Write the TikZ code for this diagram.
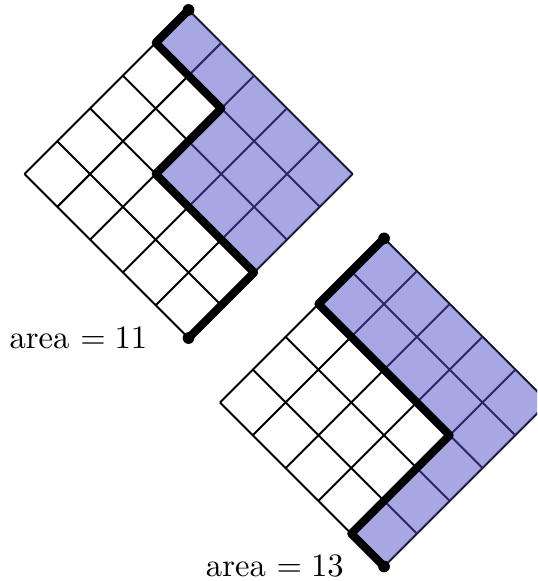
\documentclass[tikz,border=0pt]{standalone}
\usepackage{tikz}
\usetikzlibrary{positioning}
\definecolor{AreaBlue}{RGB}{80,80,200}

\begin{document}
\begin{tikzpicture}[
    cellgrid/.style={step=0.5,semithick,black},
    areafill/.style={fill=AreaBlue,opacity=0.5},
    dyck/.style={line width=2.5pt,line join=round,line cap=round},
    enddot/.style={fill=black}
  ]
  \clip (0,0) rectangle (5.787,-6.261);
  % first lattice path, area 11
  \begin{scope}[shift={(0.264,-1.875)},rotate=-45]
    \draw[cellgrid] (0,0) grid (2.5,2.5);
    \fill[areafill] (0,2.5) -- (2.5,2.5) -- (2.5,1) -- (1,1) -- (1,2) -- (0,2) -- cycle;
    \coordinate (top1) at (0,2.5);
    \coordinate (bot1) at (2.5,0);
    \draw[dyck] (top1) -- ++(0,-0.5) -- ++(1,0) -- ++(0,-1) -- ++(1.5,0) -- (bot1);
    \fill[enddot] (top1) circle (1.8pt) (bot1) circle (1.8pt);
  \end{scope}
  \node[left=3.2mm of bot1] (lab1) {area $=11$};
  % second lattice path, area 13
  \begin{scope}[shift={(2.371,-4.337)},rotate=-45]
    \draw[cellgrid] (0,0) grid (2.5,2.5);
    \fill[areafill] (0,2.5) -- (2.5,2.5) -- (2.5,0) -- (2,0) -- (2,1.5) -- (0,1.5) -- cycle;
    \coordinate (top2) at (0,2.5);
    \coordinate (bot2) at (2.5,0);
    \draw[dyck] (top2) -- ++(0,-1) -- ++(2,0) -- ++(0,-1.5) -- (bot2);
    \fill[enddot] (top2) circle (1.8pt) (bot2) circle (1.8pt);
  \end{scope}
  \node[left=3.1mm of bot2] (lab2) {area $=13$};
\end{tikzpicture}
\end{document}
